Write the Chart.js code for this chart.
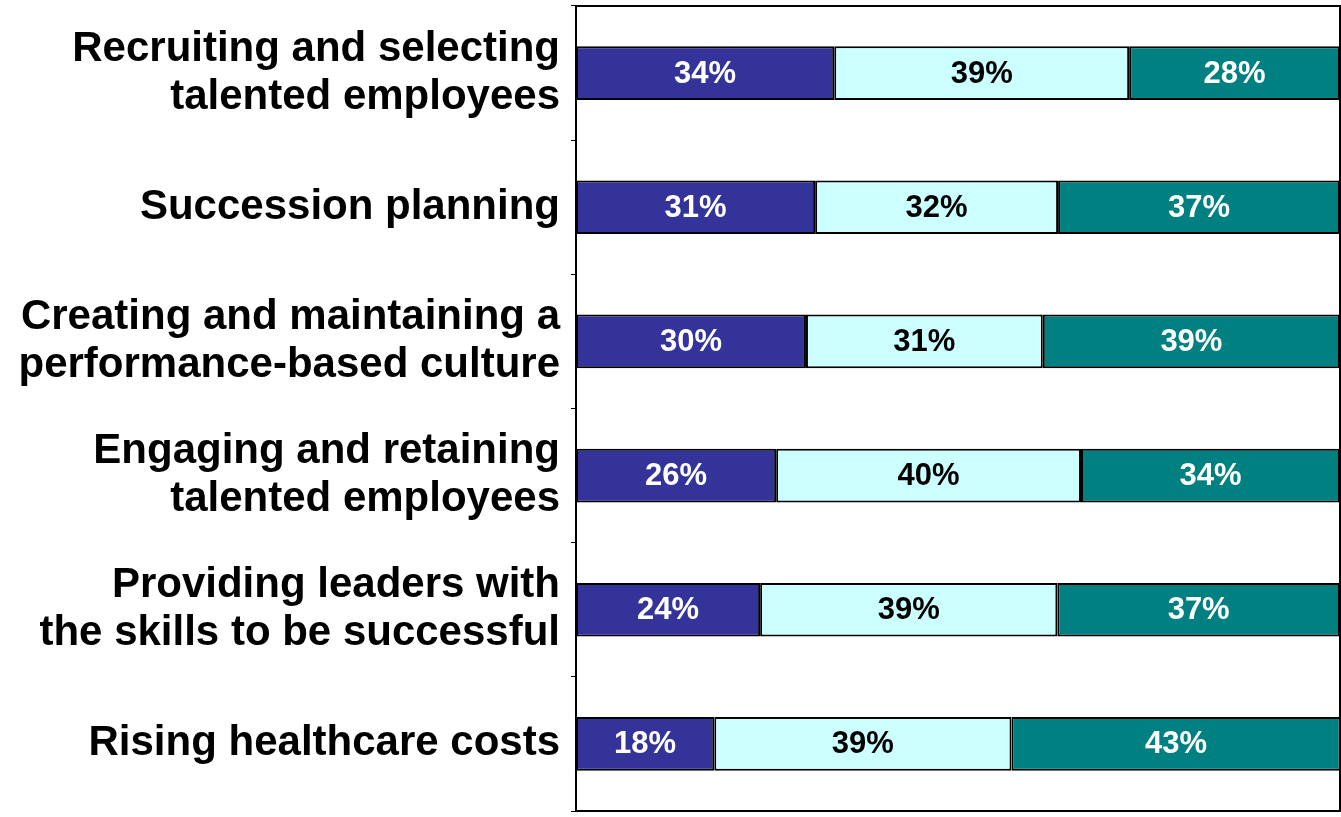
<!DOCTYPE html>
<html>
<head>
<meta charset="utf-8">
<script src="https://cdn.jsdelivr.net/npm/chart.js@4"></script>
<style>
  html, body { margin: 0; padding: 0; background: #fff; }
  #wrap { width: 1341px; height: 817px; }
</style>
</head>
<body>
<div id="wrap"><canvas id="chart"></canvas></div>
<script>
// categories (multi-line tick labels)
const categories = [
  ['Recruiting and selecting', 'talented employees'],
  'Succession planning',
  ['Creating and maintaining a', 'performance-based culture'],
  ['Engaging and retaining', 'talented employees'],
  ['Providing leaders with', 'the skills to be successful'],
  'Rising healthcare costs'
];

// series values (% of respondents)
const series1 = [33.8, 31.3, 30.1, 26.2, 24.1, 18.1];
const series2 = [38.6, 31.8, 31.0, 39.9, 38.9, 38.9];
const series3 = [27.6, 36.9, 38.9, 33.9, 37.0, 43.1];

const colors = ['#333399', '#CCFFFF', '#008080'];
const labelColors = ['#ffffff', '#000000', '#ffffff'];

// draws the % inside each segment + frame top/right
const segLabels = {
  id: 'segLabels',
  afterDatasetsDraw(chart) {
    const ctx = chart.ctx;
    ctx.save();
    ctx.font = 'bold 31px "Liberation Sans", Arial, sans-serif';
    ctx.textAlign = 'center';
    ctx.textBaseline = 'middle';
    chart.data.datasets.forEach((ds, i) => {
      chart.getDatasetMeta(i).data.forEach((bar, j) => {
        const p = bar.getProps(['x', 'y', 'base'], true);
        ctx.fillStyle = labelColors[i];
        ctx.fillText(Math.round(ds.data[j]) + '%', (p.x + p.base) / 2, p.y + 1);
      });
    });
    const a = chart.chartArea;
    ctx.strokeStyle = '#000';
    ctx.lineWidth = 2;
    ctx.beginPath();
    ctx.moveTo(a.left, a.top);
    ctx.lineTo(a.right, a.top);
    ctx.lineTo(a.right, a.bottom);
    ctx.stroke();
    ctx.restore();
  }
};

new Chart(document.getElementById('chart'), {
  type: 'bar',
  data: {
    labels: categories,
    datasets: [series1, series2, series3].map((d, i) => ({
      data: d,
      backgroundColor: colors[i],
      borderColor: '#000',
      borderWidth: 2,
      borderSkipped: false,
      barPercentage: 0.4,
      categoryPercentage: 1
    }))
  },
  options: {
    indexAxis: 'y',
    responsive: true,
    maintainAspectRatio: false,
    animation: false,
    layout: { padding: { top: 6, right: 1, bottom: 6, left: 0 } },
    plugins: { legend: { display: false }, tooltip: { enabled: false } },
    scales: {
      x: {
        stacked: true,
        min: 0,
        max: 100,
        ticks: { display: false },
        grid: { display: false },
        border: { display: true, color: '#000', width: 2 },
        afterFit(scale) { scale.height = 0; }
      },
      y: {
        stacked: true,
        grid: {
          display: true,
          drawOnChartArea: false,
          drawTicks: true,
          tickLength: 5,
          color: '#000',
          lineWidth: 1
        },
        border: { display: true, color: '#000', width: 2 },
        ticks: {
          color: '#000',
          padding: 11,
          font: { family: '"Liberation Sans", Arial, sans-serif', size: 42, weight: 'bold', lineHeight: 1.15 }
        },
        afterFit(scale) {
          scale.width = 576;
          scale.paddingTop = 0;
          scale.paddingBottom = 0;
        }
      }
    }
  },
  plugins: [segLabels]
});
</script>
</body>
</html>
